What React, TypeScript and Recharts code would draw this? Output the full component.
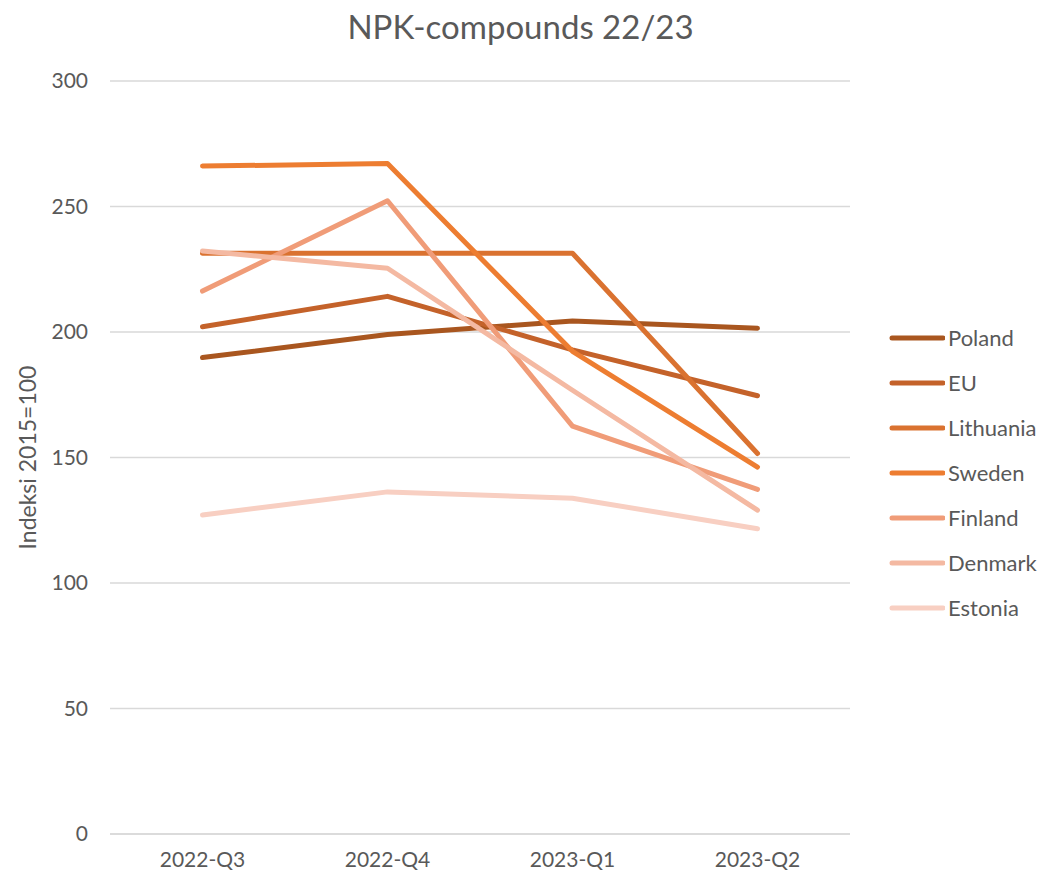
import React from 'react';
import { LineChart, Line, XAxis, YAxis, CartesianGrid } from 'recharts';

const categories = ['2022-Q3', '2022-Q4', '2023-Q1', '2023-Q2'];
const poland = [189.8, 199.0, 204.4, 201.5];
const eu = [202.1, 214.2, 192.9, 174.6];
const lithuania = [231.4, 231.4, 231.4, 151.6];
const sweden = [266.1, 267.1, 192.3, 146.2];
const finland = [216.3, 252.3, 162.5, 137.3];
const denmark = [232.3, 225.4, 176.8, 129.0];
const estonia = [127.1, 136.3, 133.8, 121.6];
const yTicks = [0, 50, 100, 150, 200, 250, 300];

const seriesNames = ['Poland', 'EU', 'Lithuania', 'Sweden', 'Finland', 'Denmark', 'Estonia'];
const seriesValues = [poland, eu, lithuania, sweden, finland, denmark, estonia];
const seriesColors = ['#A9561F', '#C4622A', '#DA7230', '#ED7D31', '#F09C78', '#F4B9A2', '#F8CFC2'];

const data = categories.map((c, i) => {
  const row: Record<string, any> = { name: c };
  seriesNames.forEach((s, j) => {
    row[s] = seriesValues[j][i];
  });
  return row;
});

const FONT = 'Lato, "Open Sans", sans-serif';
const TEXT = '#595959';

const LegendBox = () => (
  <div style={{ position: 'absolute', left: 885, top: 315, fontFamily: FONT }}>
    {seriesNames.map((s, i) => (
      <div key={s} style={{ display: 'flex', alignItems: 'center', height: 45 }}>
        <svg width={60} height={10} style={{ display: 'block' }}>
          <line x1={7} y1={5} x2={58} y2={5} stroke={seriesColors[i]} strokeWidth={5} strokeLinecap="round" />
        </svg>
        <span style={{ color: TEXT, fontSize: 22, marginLeft: 3, lineHeight: '45px' }}>{s}</span>
      </div>
    ))}
  </div>
);

export default function App() {
  return (
    <div style={{ position: 'absolute', left: 0, top: 0, width: 1041, height: 875, background: '#fff' }}>
      <div
        style={{
          position: 'absolute',
          left: 0,
          top: 6,
          width: 1041,
          textAlign: 'center',
          fontFamily: FONT,
          fontSize: 33,
          color: TEXT,
        }}
      >
        NPK-compounds 22/23
      </div>
      <LineChart
        width={1041}
        height={875}
        data={data}
        margin={{ top: 81, right: 191, bottom: 11, left: 50 }}
      >
        <CartesianGrid vertical={false} stroke="#D9D9D9" strokeWidth={1.5} />
        <XAxis
          dataKey="name"
          height={30}
          padding={{ left: 92.5, right: 92.5 }}
          axisLine={{ stroke: '#D9D9D9', strokeWidth: 1.5 }}
          tickLine={false}
          tickMargin={12}
          tick={{ fill: TEXT, fontSize: 21, fontFamily: FONT }}
        />
        <YAxis
          width={60}
          domain={[0, 300]}
          ticks={yTicks}
          axisLine={false}
          tickLine={false}
          tickMargin={16}
          tick={{ fill: TEXT, fontSize: 21, fontFamily: FONT }}
          label={{
            value: 'Indeksi 2015=100',
            angle: -90,
            position: 'insideLeft',
            offset: 0,
            dx: -22,
            style: { textAnchor: 'middle', fill: TEXT, fontSize: 23, fontFamily: FONT },
          }}
        />
        {seriesNames.map((s, i) => (
          <Line
            key={s}
            dataKey={s}
            type="linear"
            stroke={seriesColors[i]}
            strokeWidth={5}
            strokeLinecap="round"
            strokeLinejoin="round"
            dot={false}
            activeDot={false}
            isAnimationActive={false}
          />
        ))}
      </LineChart>
      <LegendBox />
    </div>
  );
}
